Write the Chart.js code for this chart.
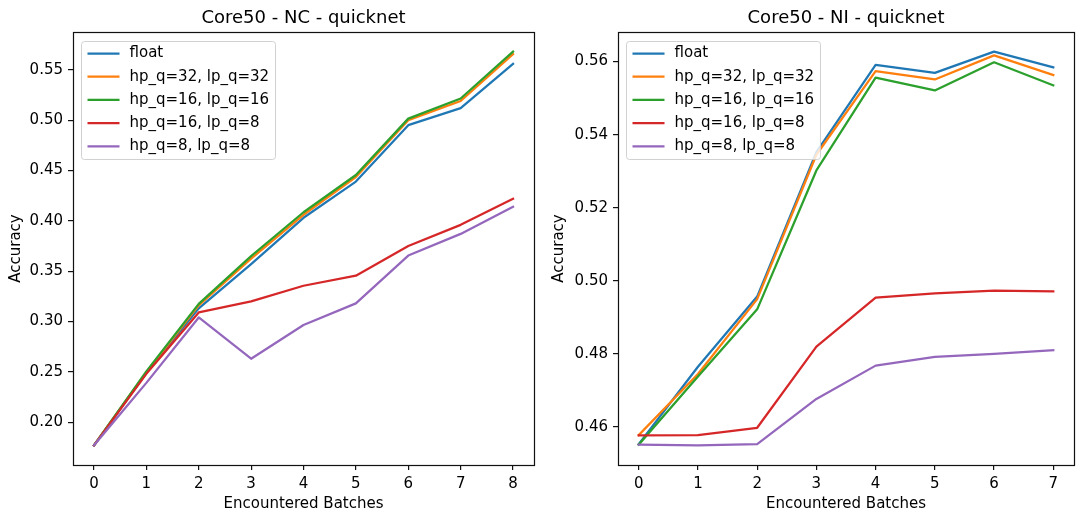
<!DOCTYPE html>
<html>
<head>
<meta charset="utf-8">
<script src="https://cdn.jsdelivr.net/npm/chart.js@4.4.1/dist/chart.umd.min.js"></script>
<style>
  html, body { margin: 0; padding: 0; background: #fff; }
  #wrap { position: relative; width: 1076px; height: 515px; overflow: hidden; }
  canvas { position: absolute; top: 0; }
  #nc { left: 0; }
  #ni { left: 540px; }
</style>
</head>
<body>
<div id="wrap">
  <canvas id="nc" width="540" height="515"></canvas>
  <canvas id="ni" width="536" height="515"></canvas>
</div>
<script>
// Series names and colours shared by both panels
const seriesLabels = ['float', 'hp_q=32, lp_q=32', 'hp_q=16, lp_q=16', 'hp_q=16, lp_q=8', 'hp_q=8, lp_q=8'];
const seriesColors = ['#1f77b4', '#ff7f0e', '#2ca02c', '#d62728', '#9467bd'];

// Core50 NC scenario
const ncBatches   = [0, 1, 2, 3, 4, 5, 6, 7, 8];
const ncFloat     = [0.177, 0.249, 0.313, 0.357, 0.403, 0.439, 0.495, 0.512, 0.556];
const ncHp32Lp32  = [0.177, 0.2495, 0.316, 0.3625, 0.406, 0.4435, 0.500, 0.519, 0.5655];
const ncHp16Lp16  = [0.177, 0.2505, 0.3175, 0.365, 0.4085, 0.4455, 0.5015, 0.5215, 0.568];
const ncHp16Lp8   = [0.177, 0.248, 0.309, 0.320, 0.3355, 0.3455, 0.375, 0.396, 0.422];
const ncHp8Lp8    = [0.177, 0.239, 0.304, 0.263, 0.2965, 0.318, 0.3655, 0.387, 0.414];
const ncYTicks    = [0.20, 0.25, 0.30, 0.35, 0.40, 0.45, 0.50, 0.55];

// Core50 NI scenario
const niBatches   = [0, 1, 2, 3, 4, 5, 6, 7];
const niFloat     = [0.4553, 0.4765, 0.4957, 0.5352, 0.5591, 0.5569, 0.5627, 0.5584];
const niHp32Lp32  = [0.4578, 0.4745, 0.4950, 0.5345, 0.5574, 0.5551, 0.5617, 0.5563];
const niHp16Lp16  = [0.4552, 0.4738, 0.4922, 0.5302, 0.5556, 0.5521, 0.5598, 0.5535];
const niHp16Lp8   = [0.4577, 0.4578, 0.4598, 0.4820, 0.4954, 0.4966, 0.4973, 0.4971];
const niHp8Lp8    = [0.4552, 0.4550, 0.4553, 0.4677, 0.4768, 0.4792, 0.4800, 0.4810];
const niYTicks    = [0.46, 0.48, 0.50, 0.52, 0.54, 0.56];

const FONT = 'DejaVu Sans';
const TICK_SIZE = 15;
const TITLE_SIZE = 18;

// Axes frame on all four sides
const framePlugin = {
  id: 'frame',
  afterDatasetsDraw(chart) {
    const { ctx, chartArea: a } = chart;
    ctx.save();
    ctx.strokeStyle = '#111';
    ctx.lineWidth = 1.2;
    ctx.strokeRect(Math.round(a.left) + 0.5, Math.round(a.top) + 0.5,
                   Math.round(a.right - a.left), Math.round(a.bottom - a.top));
    ctx.restore();
  }
};

// Boxed legend in the upper-left corner of the plot area
const boxLegendPlugin = {
  id: 'boxLegend',
  afterDatasetsDraw(chart) {
    const { ctx, chartArea: a } = chart;
    const items = chart.data.datasets;
    ctx.save();
    ctx.font = TICK_SIZE + 'px "' + FONT + '"';
    const pad = 6, handle = 30, gap = 12, rowH = 23.2;
    const textW = Math.max(...items.map(d => ctx.measureText(d.label).width));
    const x0 = Math.round(a.left + 8) + 0.5;
    const y0 = Math.round(a.top + 8.5) + 0.5;
    const w = Math.round(pad * 2 + handle + gap + textW);
    const h = Math.round(12 + rowH * (items.length - 1) + 13);
    ctx.beginPath();
    ctx.roundRect(x0, y0, w, h, 3);
    ctx.fillStyle = 'rgba(255,255,255,0.8)';
    ctx.fill();
    ctx.strokeStyle = 'rgba(204,204,204,0.9)';
    ctx.lineWidth = 1;
    ctx.stroke();
    items.forEach((d, i) => {
      const cy = y0 + 12 + i * rowH;
      ctx.strokeStyle = d.borderColor;
      ctx.lineWidth = 2.25;
      ctx.lineCap = 'butt';
      ctx.beginPath();
      ctx.moveTo(x0 + pad, cy);
      ctx.lineTo(x0 + pad + handle + 2, cy);
      ctx.stroke();
      ctx.fillStyle = '#000';
      ctx.textBaseline = 'middle';
      ctx.textAlign = 'left';
      ctx.fillText(d.label, x0 + pad + handle + gap, cy);
    });
    ctx.restore();
  }
};

function makePanel(canvasId, titleText, batches, series, yTicks, yAxisWidth, padRight, yTitlePad) {
  const all = series.flat();
  const yLo = Math.min(...all), yHi = Math.max(...all);
  const yM = (yHi - yLo) * 0.05;
  const xLo = Math.min(...batches), xHi = Math.max(...batches);
  const xM = (xHi - xLo) * 0.05;

  const datasets = series.map((vals, i) => ({
    label: seriesLabels[i],
    data: vals.map((v, j) => ({ x: batches[j], y: v })),
    borderColor: seriesColors[i],
    backgroundColor: seriesColors[i],
    borderWidth: 2.25,
    borderJoinStyle: 'round',
    borderCapStyle: 'square',
    pointRadius: 0,
    tension: 0,
    fill: false,
    order: series.length - 1 - i
  }));

  const tickFont = { family: FONT, size: TICK_SIZE };
  const gridOpts = {
    drawOnChartArea: false, drawTicks: true, tickLength: 5,
    color: '#111', lineWidth: 1.2
  };

  return new Chart(document.getElementById(canvasId), {
    type: 'line',
    data: { datasets },
    options: {
      responsive: false,
      animation: false,
      devicePixelRatio: 1,
      layout: { padding: { left: 0, right: padRight, top: 0, bottom: 0 } },
      plugins: {
        legend: { display: false },
        tooltip: { enabled: false },
        title: {
          display: true, text: titleText, fullSize: false, color: '#000',
          font: { family: FONT, size: TITLE_SIZE, weight: 'normal', lineHeight: 1.2 },
          padding: { top: 7.3, bottom: 3.1 }
        }
      },
      scales: {
        x: {
          type: 'linear', min: xLo - xM, max: xHi + xM,
          afterBuildTicks: s => { s.ticks = batches.map(v => ({ value: v })); },
          afterFit: s => { s.height = 50; },
          grid: gridOpts,
          border: { display: false },
          ticks: { color: '#000', font: tickFont, padding: 5, maxRotation: 0, autoSkip: false,
                   callback: v => String(v) },
          title: { display: true, text: 'Encountered Batches', color: '#000', font: tickFont,
                   padding: { top: 0, bottom: 2.2 } }
        },
        y: {
          type: 'linear', min: yLo - yM, max: yHi + yM,
          afterBuildTicks: s => { s.ticks = yTicks.map(v => ({ value: v })); },
          afterFit: s => { s.width = yAxisWidth; },
          grid: gridOpts,
          border: { display: false },
          ticks: { color: '#000', font: tickFont, padding: 5, autoSkip: false,
                   callback: v => Number(v).toFixed(2) },
          title: { display: true, text: 'Accuracy', color: '#000', font: tickFont,
                   padding: { top: yTitlePad, bottom: 0 } }
        }
      }
    },
    plugins: [framePlugin, boxLegendPlugin]
  });
}

makePanel('nc', 'Core50 - NC - quicknet', ncBatches,
  [ncFloat, ncHp32Lp32, ncHp16Lp16, ncHp16Lp8, ncHp8Lp8], ncYTicks, 73, 6, 7.4);
makePanel('ni', 'Core50 - NI - quicknet', niBatches,
  [niFloat, niHp32Lp32, niHp16Lp16, niHp16Lp8, niHp8Lp8], niYTicks, 78, 2, 10);
</script>
</body>
</html>
